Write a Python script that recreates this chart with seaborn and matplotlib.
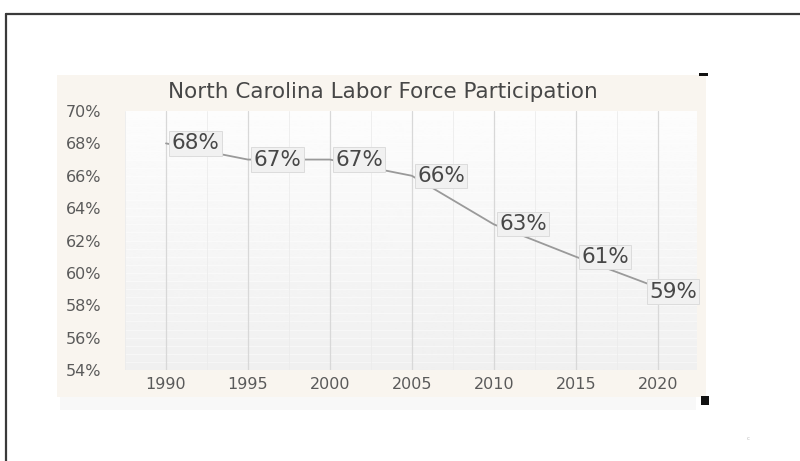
import matplotlib
matplotlib.use("Agg")
import matplotlib.pyplot as plt
import numpy as np
import pandas as pd
import seaborn as sns
from matplotlib.patches import Rectangle
from matplotlib.lines import Line2D

years = [1990, 1995, 2000, 2005, 2010, 2015, 2020]
participation = [68.0, 67.0, 67.0, 66.0, 63.0, 61.0, 59.1]
y_ticks = [54, 56, 58, 60, 62, 64, 66, 68, 70]
x_ticks = [1990, 1995, 2000, 2005, 2010, 2015, 2020]
title = "North Carolina Labor Force Participation"

sns.set_theme(style="white")
plt.rcParams['font.family'] = ['DejaVu Sans']

W, H = 800, 461
fig = plt.figure(figsize=(W / 100, H / 100), dpi=100)
fig.patch.set_facecolor("white")

def fx(px):
    return px / W

def fy(py):
    return 1 - py / H

# outer slide border (top + left)
fig.add_artist(Line2D([fx(6), 1.0], [fy(14), fy(14)], color="#3a3a3a", lw=1.6))
fig.add_artist(Line2D([fx(6), fx(6)], [fy(14), 0.0], color="#3a3a3a", lw=1.6))

# soft shadow under panel
fig.add_artist(Rectangle((fx(60), fy(410)), fx(636), (410 - 396) / H,
                         facecolor="#f8f8f8", edgecolor="none", zorder=0))
# beige chart panel
fig.add_artist(Rectangle((fx(57), fy(397)), fx(649), (397 - 75) / H,
                         facecolor="#f9f5ef", edgecolor="none", zorder=0.5))

# black handle marks
fig.add_artist(Rectangle((fx(699), fy(76)), fx(9), 3 / H,
                         facecolor="#111111", edgecolor="none", zorder=3))
fig.add_artist(Rectangle((fx(701), fy(405)), fx(8), 9 / H,
                         facecolor="#111111", edgecolor="none", zorder=3))
fig.text(fx(748), fy(438), "c", fontsize=4, color="#bbbbbb", ha="center", va="center")

ax = fig.add_axes([fx(125), fy(370), (697 - 125) / W, (370 - 111) / H])
ax.set_zorder(2)
ax.patch.set_alpha(0)

xlim = (1987.5, 2022.4)
ylim = (54, 70)
ax.set_xlim(*xlim)
ax.set_ylim(*ylim)

# gradient background of plot area
grad = np.linspace(0.94, 0.99, 256).reshape(-1, 1)
ax.imshow(grad, extent=[xlim[0], xlim[1], ylim[0], ylim[1]], origin="lower",
          aspect="auto", cmap="gray", vmin=0, vmax=1, zorder=0)

# faint minor grid
for yy in np.arange(54, 70.01, 0.5):
    ax.axhline(yy, color="white", lw=0.6, alpha=0.55, zorder=0.5)
for xx in np.arange(1987.5, 2022.6, 2.5):
    ax.axvline(xx, color="#ececec", lw=0.6, zorder=0.6)
for xx in x_ticks:
    ax.axvline(xx, color="#d8d8d8", lw=0.9, zorder=0.7)

df = pd.DataFrame({"year": years, "value": participation})
sns.lineplot(data=df, x="year", y="value", ax=ax, color="#9a9a9a", linewidth=1.3, zorder=2)

n = len(years)
for i, (x, v) in enumerate(zip(years, participation)):
    dx = 4 if i < n - 1 else -6
    dy = 0 if i < n - 1 else -3
    ax.annotate(f"{round(v)}%", xy=(x, v), xytext=(dx, dy), textcoords="offset points",
                ha="left", va="center", fontsize=15.5, color="#474747", zorder=3,
                bbox=dict(boxstyle="square,pad=0.1", fc="#f1f1f1", ec="#dcdcdc", lw=0.7))

ax.set_xticks(x_ticks)
ax.set_xticklabels([str(t) for t in x_ticks])
ax.set_yticks(y_ticks)
ax.set_yticklabels([f"{t}%" for t in y_ticks])
ax.tick_params(axis="both", length=0, labelsize=11.5, labelcolor="#5a5a5a")
ax.tick_params(axis="y", pad=17)
ax.tick_params(axis="x", pad=5)
for s in ax.spines.values():
    s.set_visible(False)
ax.set_xlabel("")
ax.set_ylabel("")
ax.grid(False)

fig.text(fx(383), fy(92), title, ha="center", va="center", fontsize=15.5, color="#474747")

fig.savefig("out.png", dpi=100)
